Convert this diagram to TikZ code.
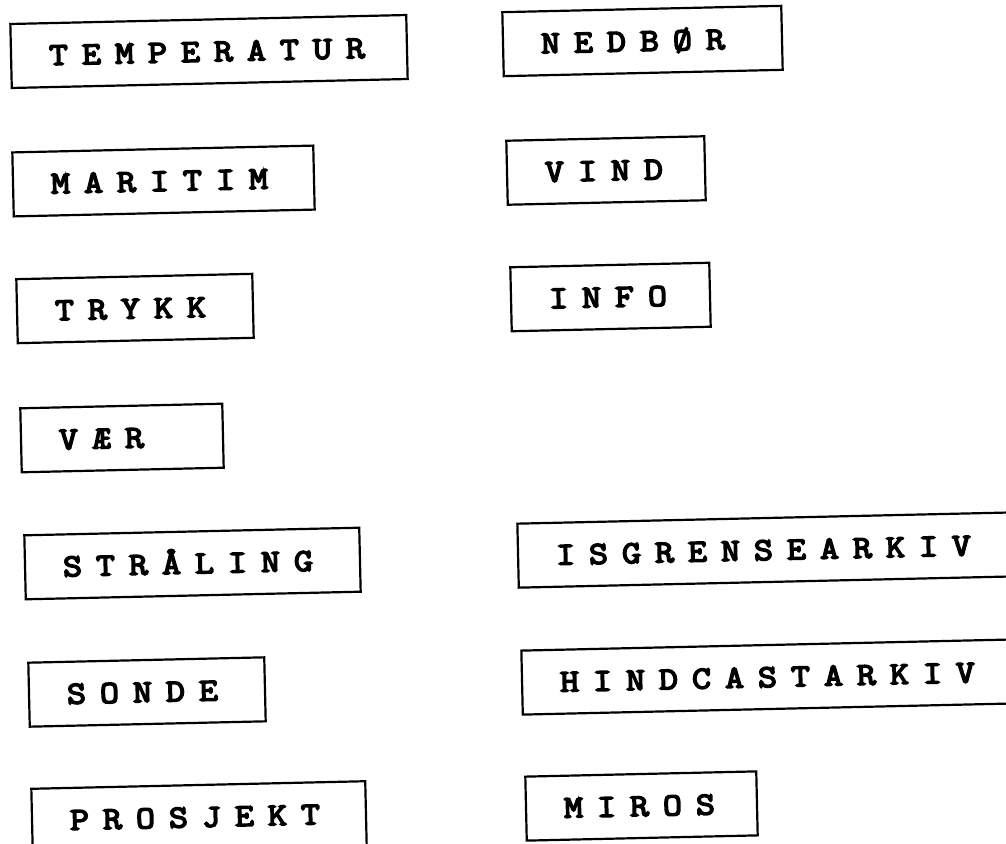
\documentclass[tikz,border=0pt]{standalone}
\usepackage{fontspec}
\newfontfamily\labelfont{Latin Modern Mono}[FakeBold=5,FakeStretch=1.15]
\newcommand\spl[1]{\splA#1\relax}
\def\splA#1{\ifx#1\relax\else\makebox[33pt][l]{#1}\expandafter\splA\fi}
\tikzset{
  lblbox/.style={draw, line width=2.2pt, rectangle, rotate=1.3,
    minimum height=64pt, inner xsep=38pt, inner ysep=0pt,
    text width=#1-76pt, align=left,
    font={\labelfont\fontsize{32}{32}\selectfont},
    text height=20pt, text depth=0pt}
}
\begin{document}
\begin{tikzpicture}[x=1pt,y=-1pt]
\useasboundingbox (0,0) rectangle (1006,843);
\clip (0,0) rectangle (1006,843);
\node[lblbox=396pt] (temp)  at (209,51.5)   {\spl{TEMPERATUR}};
\node[lblbox=301pt] (mar)   at (163.5,181)  {\spl{MARITIM}};
\node[lblbox=236pt] (trykk) at (135,308.5)  {\spl{TRYKK}};
\node[lblbox=202pt] (vaer)  at (122,438)    {\spl{VÆR}};
\node[lblbox=335pt] (str)   at (192.5,563.5){\spl{STRÅLING}};
\node[lblbox=236pt] (sonde) at (147,692)    {\spl{SONDE}};
\node[lblbox=334pt] (prosj) at (199,817)    {\spl{PROSJEKT}};
\node[lblbox=279pt] (ned)   at (642.5,41)   {\spl{NEDBØR}};
\node[lblbox=198pt] (vind)  at (606,170.5)  {\spl{VIND}};
\node[lblbox=199pt] (info)  at (610.5,297)  {\spl{INFO}};
\node[lblbox=498pt] (isg)   at (767,550)    {\spl{ISGRENSEARKIV}};
\node[lblbox=494pt] (hind)  at (769,677)    {\spl{HINDCASTARKIV}};
\node[lblbox=231pt] (miros) at (641.5,806)  {\spl{MIROS}};
\end{tikzpicture}
\end{document}
